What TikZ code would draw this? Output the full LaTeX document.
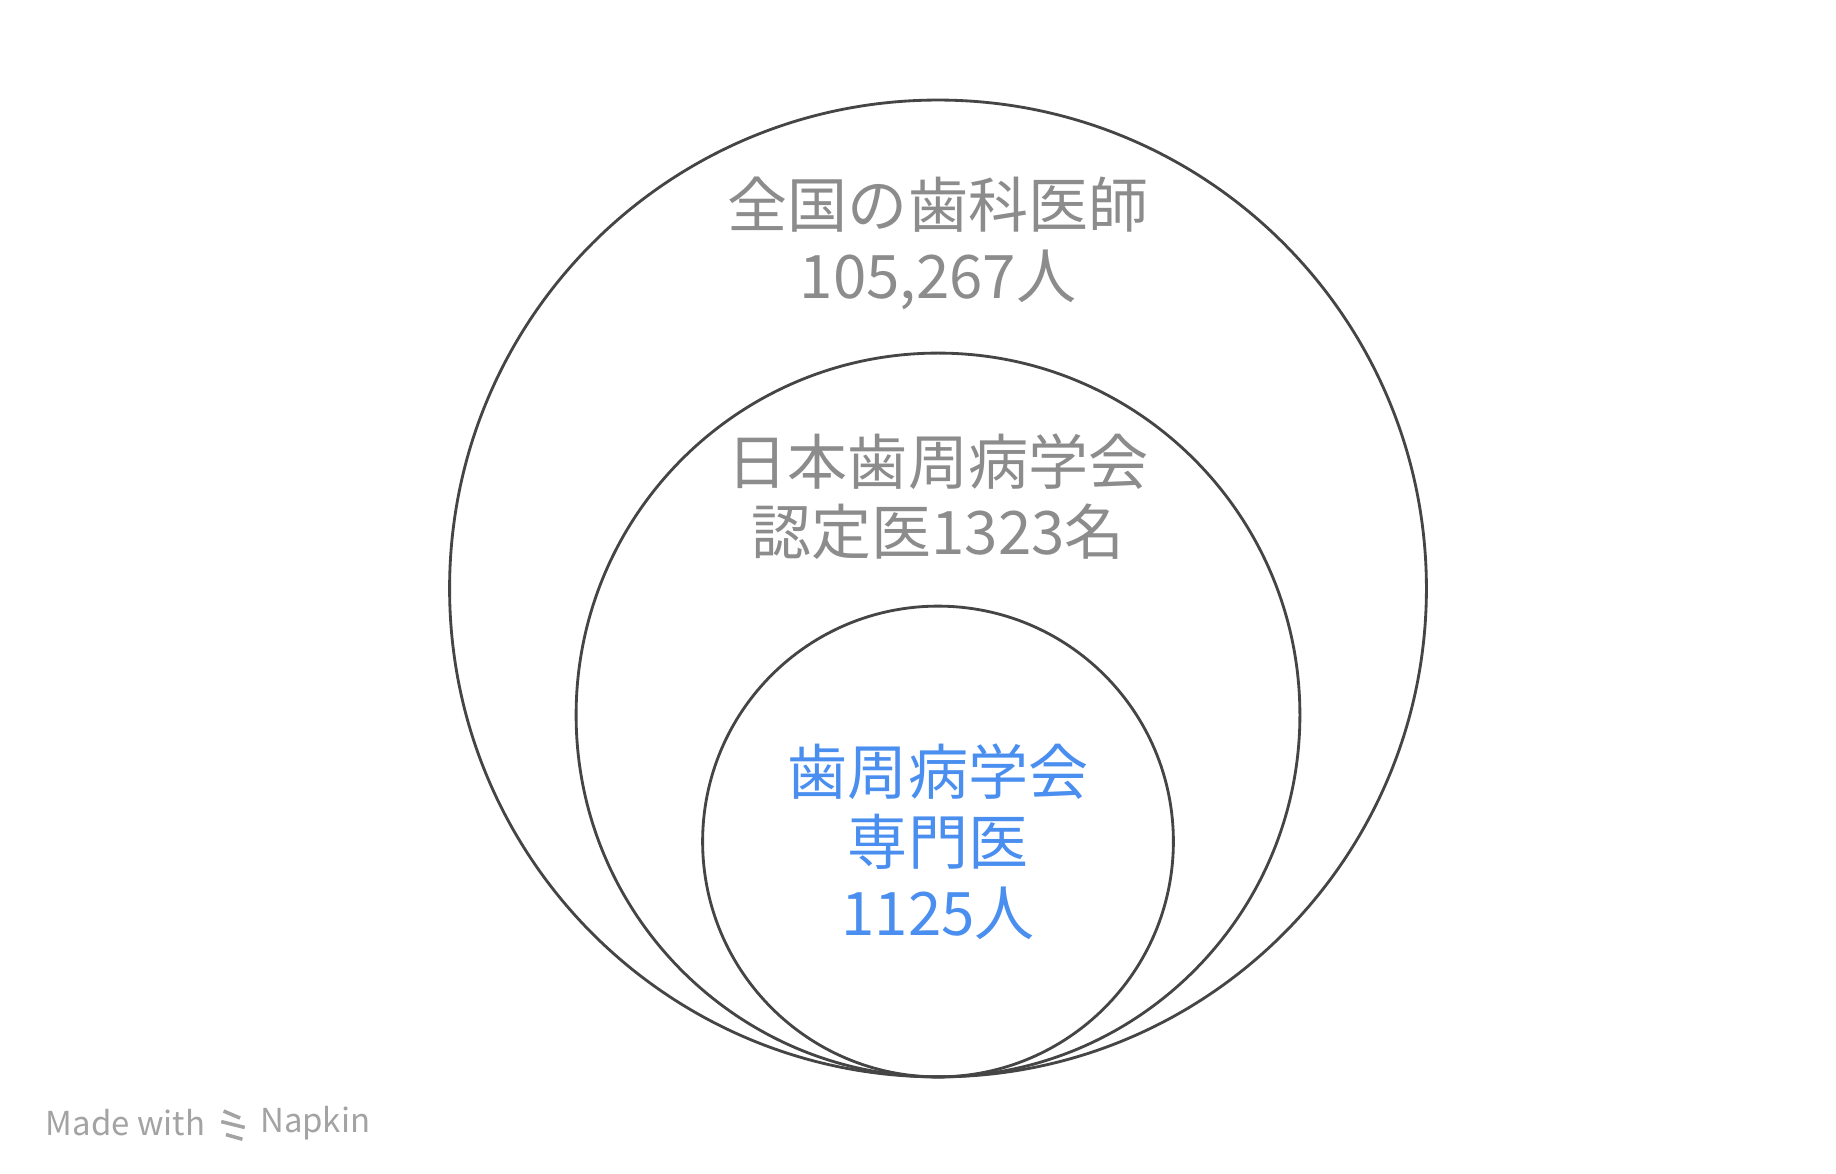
\documentclass[tikz,border=0pt]{standalone}
\usepackage{fontspec}
\setmainfont{Noto Sans CJK JP}
\definecolor{txtgray}{HTML}{8C8C8C}
\definecolor{blu}{HTML}{4A8FF0}
\definecolor{ring}{HTML}{454545}
\begin{document}
\begin{tikzpicture}[x=0.5pt,y=-0.5pt,
  ringst/.style={draw=ring,line width=1.2pt},
  lbl/.style={font=\fontsize{25.5}{30}\selectfont,align=center,text=txtgray}]
\useasboundingbox (0,0) rectangle (1560,997);
\fill[white] (0,0) rectangle (1560,997);
\draw[ringst] (797,500) circle[radius=415];
\draw[ringst] (797,607.5) circle[radius=307.5];
\draw[ringst] (797,715) circle[radius=200];
\node[lbl] (t1) at (797,207) {全国の歯科医師\\105,267人};
\node[lbl] (t2) at (797,422) {日本歯周病学会\\認定医1323名};
\node[lbl,text=blu] (t3) at (797,715) {歯周病学会\\専門医\\1125人};
\node[anchor=west,text=txtgray!80,font=\fontsize{14}{15}\selectfont] (m) at (32,954) {Made with};
\draw[txtgray!80,line width=1.5pt] (190,944) -- (204,950) (188,953) -- (208,958) (192,964) -- (206,968);
\node[anchor=west,text=txtgray!80,font=\fontsize{14}{15}\selectfont] (n) at (214,954) {Napkin};
\end{tikzpicture}
\end{document}
